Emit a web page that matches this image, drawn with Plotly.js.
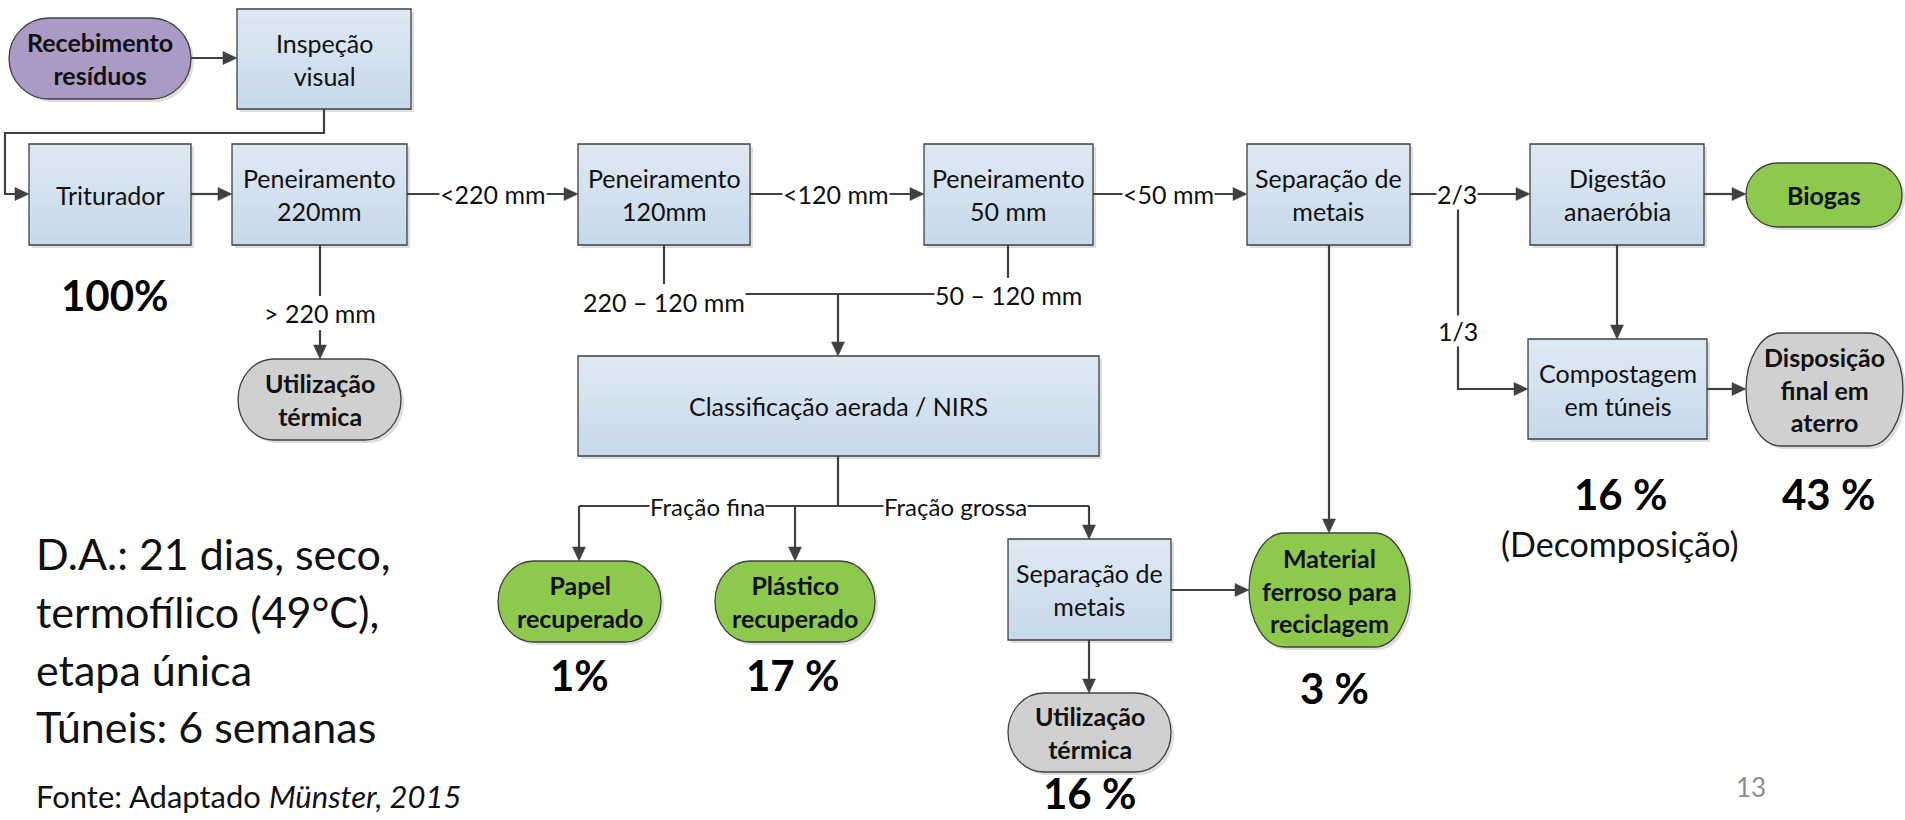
<!DOCTYPE html>
<html><head><meta charset="utf-8">
<script src="https://cdn.plot.ly/plotly-3.0.1.min.js"></script>
<style>html,body{margin:0;padding:0;background:#fff;overflow:hidden}#chart{width:1905px;height:820px}</style>
</head><body><div id="chart"></div>
<script>
// ---------- content (data) ----------
const processLabels = ['Inspeção<br>visual','Triturador','Peneiramento<br>220mm','Peneiramento<br>120mm','Peneiramento<br>50 mm','Separação de<br>metais','Digestão<br>anaeróbia','Compostagem<br>em túneis','Classificação aerada / NIRS','Separação de<br>metais'];
const terminalLabels = ['Recebimento<br>resíduos','Utilização<br>térmica','Biogas','Disposição<br>final em<br>aterro','Papel<br>recuperado','Plástico<br>recuperado','Material<br>ferroso para<br>reciclagem','Utilização<br>térmica'];
const terminalKinds = ['input','residue','product','residue','product','product','product','residue'];
const shareLabels = ['100%','1%','17 %','3 %','16 %','16 %','43 %'];
const flowLabels = ['<220 mm','<120 mm','<50 mm','2/3','1/3','> 220 mm','220 – 120 mm','50 – 120 mm','Fração fina','Fração grossa'];
const noteLines = ['D.A.: 21 dias, seco,','termofílico (49°C),','etapa única','Túneis: 6 semanas'];
const sourceText = 'Fonte: Adaptado <i>Münster, 2015</i>';
const subNote = '(Decomposição)';
const pageNumber = '13';

// ---------- layout geometry (pixel space of the axes) ----------
const boxGeom = [[237,9,411,109],[29,144,191,245],[232,144,407,245],[578,144,750,245],[924,144,1093,245],[1247,144,1410,245],[1530,144,1704,245],[1528,339,1707,439],[578,356,1099,456],[1008,539,1171,640]];
const pillGeom = [[9,18,191,99],[238,359,401,440],[1746,163,1902,227],[1746,333,1903,446],[498,561,661,642],[715,561,875,642],[1249,533,1410,647],[1008,693,1171,772]];
const shareGeom = [[115,295],[579,675],[792,675],[1334,688],[1089,793],[1620,494],[1828,494]];
const flowGeom = [[493,194],[836,194],[1168,194],[1457,194],[1458,331],[320,313],[664,302],[1008,295],[707,506],[955,506]];
const noteGeom = [[34,553],[34,611],[34,669],[34,726]];
const arrows = [ // polylines, last point gets the arrowhead
  [[191,58],[237,58]],
  [[324,109],[324,133],[5,133],[5,194],[29,194]],
  [[191,194],[232,194]],
  [[407,194],[578,194]],
  [[750,194],[924,194]],
  [[1093,194],[1247,194]],
  [[1410,194],[1530,194]],
  [[1458,194],[1458,389],[1528,389]],
  [[1704,194],[1746,194]],
  [[1617,245],[1617,339]],
  [[1707,389],[1746,389]],
  [[1329,245],[1329,533]],
  [[320,330],[320,359]],
  [[838,294],[838,356]],
  [[579,506],[579,561]],
  [[795,506],[795,561]],
  [[1089,506],[1089,539]],
  [[1171,590],[1249,590]],
  [[1089,640],[1089,693]]
];
const plainLines = [
  [[320,245],[320,296]],
  [[664,245],[664,284]],
  [[1008,245],[1008,278]],
  [[743,294],[936,294]],
  [[838,456],[838,506]],
  [[579,506],[1089,506]]
];

// ---------- styles ----------
const FONT = 'Lato, Carlito, "Noto Sans", sans-serif';
const EDGE = '#404040';
const pillFill = {input:'#a99bc6', product:'#8dc94c', residue:'#d0d0d0'};
const boxTop = [223,233,243], boxBot = [198,216,233];

const shapes = [];
const annotations = [];

function rgb(c){return 'rgb('+c.map(Math.round).join(',')+')';}
// process boxes
boxGeom.forEach((g,i)=>{
  const [x0,y0,x1,y1]=g;
  shapes.push({type:'rect',xref:'x',yref:'y',x0:x0+3,y0:y0+3,x1:x1+3,y1:y1+3,fillcolor:'rgba(0,0,0,0.13)',line:{width:0},layer:'below'});
  const n=10;
  for(let k=0;k<n;k++){
    const t=(k+0.5)/n;
    const c=boxTop.map((v,j)=>v+(boxBot[j]-v)*t);
    shapes.push({type:'rect',xref:'x',yref:'y',x0:x0,x1:x1,y0:y0+(y1-y0)*k/n,y1:y0+(y1-y0)*(k+1)/n+0.5,fillcolor:rgb(c),line:{width:0},layer:'below'});
  }
  shapes.push({type:'rect',xref:'x',yref:'y',x0,y0,x1,y1,fillcolor:'rgba(0,0,0,0)',line:{color:EDGE,width:1.3},layer:'below'});
  annotations.push({x:(x0+x1)/2,y:(y0+y1)/2,xref:'x',yref:'y',text:processLabels[i],showarrow:false,xanchor:'center',yanchor:'middle',font:{family:FONT,size:25,color:'#111'}});
});
// terminal pills
function pillPath(x0,y0,x1,y1){
  const h=y1-y0,w=x1-x0,ry=h/2,rx=Math.min(h/2,w*0.22),cy=(y0+y1)/2,k=0.5523;
  return `M${x0+rx},${y0} L${x1-rx},${y0} C${x1-rx+k*rx},${y0} ${x1},${cy-k*ry} ${x1},${cy} C${x1},${cy+k*ry} ${x1-rx+k*rx},${y1} ${x1-rx},${y1} L${x0+rx},${y1} C${x0+rx-k*rx},${y1} ${x0},${cy+k*ry} ${x0},${cy} C${x0},${cy-k*ry} ${x0+rx-k*rx},${y0} ${x0+rx},${y0} Z`;
}
pillGeom.forEach((g,i)=>{
  const [x0,y0,x1,y1]=g;
  shapes.push({type:'path',xref:'x',yref:'y',path:pillPath(x0+3,y0+3,x1+3,y1+3),fillcolor:'rgba(0,0,0,0.13)',line:{width:0},layer:'below'});
  shapes.push({type:'path',xref:'x',yref:'y',path:pillPath(x0,y0,x1,y1),fillcolor:pillFill[terminalKinds[i]],line:{color:EDGE,width:1.3},layer:'below'});
  annotations.push({x:(x0+x1)/2,y:(y0+y1)/2,xref:'x',yref:'y',text:'<b>'+terminalLabels[i]+'</b>',showarrow:false,xanchor:'center',yanchor:'middle',font:{family:FONT,size:25,color:'#111'}});
});
// connectors
function polyPath(pts){return pts.map((p,i)=>(i?'L':'M')+p[0]+','+p[1]).join(' ');}
function addLine(pts){shapes.push({type:'path',xref:'x',yref:'y',path:polyPath(pts),fillcolor:'rgba(0,0,0,0)',line:{color:EDGE,width:2.2},layer:'below'});}
plainLines.forEach(addLine);
arrows.forEach(pts=>{
  const a=pts[pts.length-2], b=pts[pts.length-1];
  const dx=b[0]-a[0], dy=b[1]-a[1], L=Math.hypot(dx,dy), ux=dx/L, uy=dy/L;
  const len=14, hw=6.5;
  const bx=b[0]-ux*len, by=b[1]-uy*len;
  const body=pts.slice(0,-1).concat([[bx+ux*2,by+uy*2]]);
  addLine(body);
  shapes.push({type:'path',xref:'x',yref:'y',path:`M${b[0]},${b[1]} L${bx-uy*hw},${by+ux*hw} L${bx+uy*hw},${by-ux*hw} Z`,fillcolor:EDGE,line:{color:EDGE,width:0.5},layer:'below'});
});
// flow labels
flowLabels.forEach((t,i)=>{
  annotations.push({x:flowGeom[i][0],y:flowGeom[i][1],xref:'x',yref:'y',text:t,showarrow:false,xanchor:'center',yanchor:'middle',bgcolor:'#ffffff',borderpad:0,font:{family:FONT,size:(i>=8?24:25),color:'#111'}});
});
// shares
shareLabels.forEach((t,i)=>{
  annotations.push({x:shareGeom[i][0],y:shareGeom[i][1],xref:'x',yref:'y',text:'<b>'+t+'</b>',showarrow:false,xanchor:'center',yanchor:'middle',font:{family:FONT,size:42,color:'#000'}});
});
annotations.push({x:1620,y:543,xref:'x',yref:'y',text:subNote,showarrow:false,xanchor:'center',yanchor:'middle',font:{family:FONT,size:34,color:'#111'}});
noteLines.forEach((t,i)=>{
  annotations.push({x:noteGeom[i][0],y:noteGeom[i][1],xref:'x',yref:'y',text:t,showarrow:false,xanchor:'left',yanchor:'middle',font:{family:FONT,size:43,color:'#111'}});
});
annotations.push({x:34,y:796,xref:'x',yref:'y',text:sourceText,showarrow:false,xanchor:'left',yanchor:'middle',font:{family:FONT,size:31,color:'#111'}});
annotations.push({x:1751,y:787,xref:'x',yref:'y',text:pageNumber,showarrow:false,xanchor:'center',yanchor:'middle',font:{family:FONT,size:26,color:'#8e8e8e'}});

const layout = {
  width:1905,height:820,margin:{l:0,r:0,t:0,b:0},paper_bgcolor:'#fff',plot_bgcolor:'#fff',showlegend:false,
  xaxis:{range:[0,1905],visible:false,fixedrange:true},
  yaxis:{range:[820,0],visible:false,fixedrange:true},
  shapes, annotations
};
Plotly.newPlot('chart',[{x:[],y:[],type:'scatter',mode:'markers',hoverinfo:'skip'}],layout,{displayModeBar:false,staticPlot:true});
</script></body></html>
